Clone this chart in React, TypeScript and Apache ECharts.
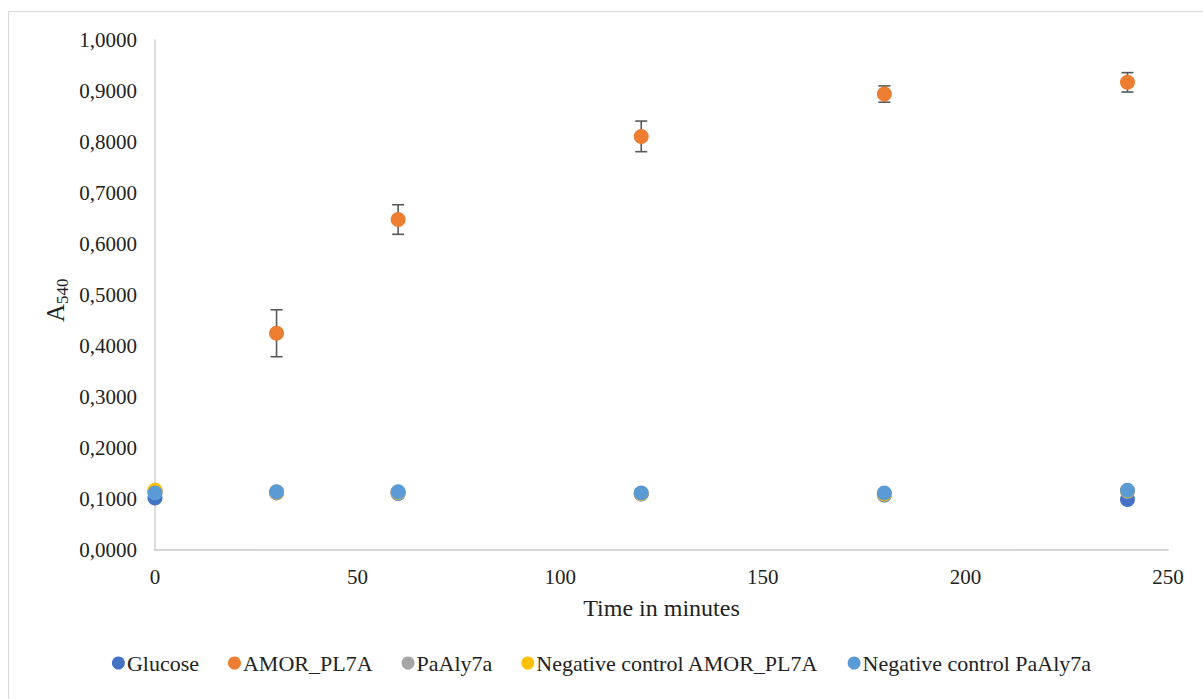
import React, { useEffect, useRef } from "react";
import * as echarts from "echarts";

const times = [0, 30, 60, 120, 180, 240];
const glucose = [0.102, 0.112, 0.111, 0.11, 0.108, 0.099];
const amorPL7A = [0.116, 0.425, 0.648, 0.811, 0.894, 0.917];
const amorErr = [0, 0.046, 0.029, 0.03, 0.016, 0.019];
const paAly7a = [0.113, 0.113, 0.112, 0.111, 0.11, 0.115];
const negAmor = [0.117, 0.113, 0.113, 0.111, 0.11, 0.116];
const negPaAly7a = [0.112, 0.114, 0.114, 0.112, 0.112, 0.117];

const seriesNames = [
  "Glucose",
  "AMOR_PL7A",
  "PaAly7a",
  "Negative control AMOR_PL7A",
  "Negative control PaAly7a",
];
const seriesColors = ["#4472C4", "#ED7D31", "#A5A5A5", "#FFC000", "#5B9BD5"];
const seriesValues = [glucose, amorPL7A, paAly7a, negAmor, negPaAly7a];

const FONT = "'Liberation Serif', 'Times New Roman', serif";

export default function App() {
  const ref = useRef<HTMLDivElement>(null);
  useEffect(() => {
    if (!ref.current) return;
    const chart = echarts.init(ref.current, null, { renderer: "svg" });
    const scatterSeries = seriesNames.map((name, i) => ({
      name,
      type: "scatter",
      symbol: "circle",
      symbolSize: 15,
      z: 3,
      itemStyle: { color: seriesColors[i], opacity: 1 },
      data: times.map((t, j) => [t, seriesValues[i][j]]),
    }));
    const errData = times.map((t, j) => [t, amorPL7A[j], amorErr[j]]);
    chart.setOption({
      animation: false,
      backgroundColor: "#ffffff",
      textStyle: { fontFamily: FONT },
      grid: { left: 155, right: 35, top: 40, bottom: 149 },
      xAxis: {
        type: "value",
        min: 0,
        max: 250,
        interval: 50,
        name: "Time in minutes",
        nameLocation: "middle",
        nameGap: 46,
        nameTextStyle: { fontFamily: FONT, fontSize: 24, color: "#222" },
        axisLine: { show: true, lineStyle: { color: "#c8c8c8", width: 1.5 } },
        axisTick: { show: false },
        splitLine: { show: false },
        axisLabel: { fontFamily: FONT, fontSize: 21, color: "#222", margin: 16 },
      },
      yAxis: {
        type: "value",
        min: 0,
        max: 1,
        interval: 0.1,
        axisLine: { show: true, lineStyle: { color: "#d0d0d0", width: 1.5 } },
        axisTick: { show: false },
        splitLine: { show: false },
        axisLabel: {
          fontFamily: FONT,
          fontSize: 21,
          color: "#222",
          margin: 18,
          formatter: (v: number) => v.toFixed(4).replace(".", ","),
        },
      },
      legend: {
        data: seriesNames,
        left: "center",
        top: 647,
        icon: "circle",
        itemWidth: 13,
        itemHeight: 13,
        itemGap: 29,
        textStyle: { fontFamily: FONT, fontSize: 22, color: "#222", padding: [0, 0, 0, -3] },
      },
      graphic: [
        {
          type: "rect",
          shape: { x: 8.5, y: 11.5, width: 1200, height: 700 },
          style: { fill: "none", stroke: "#d9d9d9", lineWidth: 1 },
          silent: true,
        },
        {
          type: "group",
          x: 54,
          y: 300,
          rotation: Math.PI / 2,
          children: [
            {
              type: "text",
              x: -22,
              y: 1,
              style: {
                text: "A",
                fontFamily: FONT,
                fontSize: 25,
                fill: "#222",
                textAlign: "left",
                textVerticalAlign: "middle",
              },
            },
            {
              type: "text",
              x: -4,
              y: 8,
              style: {
                text: "540",
                fontFamily: FONT,
                fontSize: 17,
                fill: "#222",
                textAlign: "left",
                textVerticalAlign: "middle",
              },
            },
          ],
        },
      ],
      series: [
        {
          name: "errbars",
          type: "custom",
          z: 1,
          silent: true,
          renderItem: (params: any, api: any) => {
            const x = api.value(0);
            const y = api.value(1);
            const e = api.value(2);
            if (!e) return null;
            const top = api.coord([x, y + e]);
            const bot = api.coord([x, y - e]);
            const hw = 6;
            const st = { stroke: "#595959", lineWidth: 1.6 };
            return {
              type: "group",
              children: [
                { type: "line", shape: { x1: top[0], y1: top[1], x2: bot[0], y2: bot[1] }, style: st },
                { type: "line", shape: { x1: top[0] - hw, y1: top[1], x2: top[0] + hw, y2: top[1] }, style: st },
                { type: "line", shape: { x1: bot[0] - hw, y1: bot[1], x2: bot[0] + hw, y2: bot[1] }, style: st },
              ],
            };
          },
          data: errData,
        },
        ...scatterSeries,
      ],
    });
    return () => chart.dispose();
  }, []);
  return (
    <div
      ref={ref}
      style={{ position: "absolute", left: 0, top: 0, width: 1203, height: 699 }}
    />
  );
}
